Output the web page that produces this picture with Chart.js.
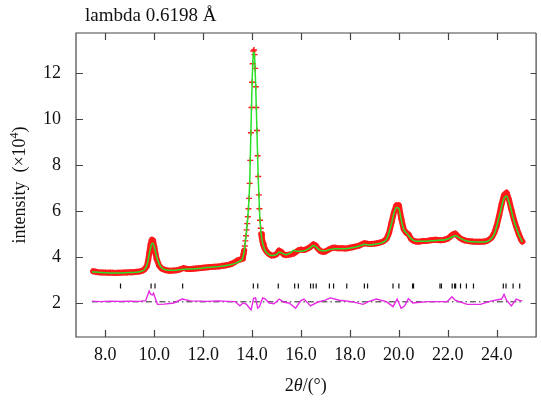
<!DOCTYPE html>
<html lang="en">
<head>
    <meta charset="UTF-8">
    <title>Powder diffraction</title>
    <script src="https://cdn.jsdelivr.net/npm/chart.js"></script>
    <style>
        body { margin: 0; background: #fff; }
        #box { width: 541px; height: 405px; }
    </style>
</head>
<body>
    <div id="box"><canvas id="myChart" width="541" height="405"></canvas></div>

<script>
    // observed profile (2theta, intensity x10^4)
    const obsX = [7.5, 7.6, 7.7, 7.8, 7.9, 8.0, 8.1, 8.2, 8.3, 8.4, 8.5, 8.6, 8.7, 8.8, 8.9, 9.0, 9.1, 9.2, 9.3, 9.4,
        9.5, 9.6, 9.7, 9.75, 9.8, 9.85, 9.9, 9.95, 10.0, 10.05, 10.1, 10.2, 10.3, 10.4, 10.5, 10.6, 10.7, 10.8, 10.9,
        11.0, 11.1, 11.2, 11.3, 11.4, 11.5, 11.6, 11.7, 11.8, 11.9, 12.0, 12.1, 12.2, 12.3, 12.4, 12.5, 12.6, 12.7,
        12.8, 12.9, 13.0, 13.1, 13.2, 13.3, 13.4, 13.5,
        13.6, 13.625, 13.65, 13.675, 13.7, 13.725, 13.75, 13.775, 13.8, 13.825, 13.85, 13.875, 13.9, 13.925, 13.95,
        13.975, 14.0, 14.025, 14.05, 14.075, 14.1, 14.125, 14.15, 14.175, 14.2, 14.225, 14.25, 14.275, 14.3, 14.325,
        14.35, 14.375, 14.4, 14.425, 14.45, 14.475, 14.5, 14.55, 14.6,
        14.7, 14.8, 14.9, 15.0, 15.1, 15.2, 15.3, 15.4, 15.5, 15.6, 15.7, 15.8, 15.9, 16.0, 16.1, 16.2, 16.3, 16.4,
        16.5, 16.6, 16.7, 16.8, 16.9, 17.0, 17.1, 17.2, 17.3, 17.4, 17.5, 17.6, 17.7, 17.8, 17.9, 18.0, 18.1, 18.2,
        18.3, 18.4, 18.5, 18.6, 18.7, 18.8, 18.9, 19.0, 19.1, 19.2, 19.3, 19.4, 19.5, 19.6, 19.7, 19.8, 19.9, 20.0,
        20.1, 20.2, 20.3, 20.4, 20.5, 20.6, 20.7, 20.8, 20.9, 21.0, 21.1, 21.2, 21.3, 21.4, 21.5, 21.6, 21.7, 21.8,
        21.9, 22.0, 22.1, 22.2, 22.3, 22.4, 22.5, 22.6, 22.7, 22.8, 22.9, 23.0, 23.1, 23.2, 23.3, 23.4, 23.5, 23.6,
        23.7, 23.8, 23.9, 24.0, 24.1, 24.2, 24.3, 24.4, 24.5, 24.6, 24.7, 24.8, 24.9, 25.0, 25.05];
    const obsY = [3.38, 3.36, 3.34, 3.33, 3.33, 3.32, 3.31, 3.32, 3.31, 3.30, 3.31, 3.31, 3.32, 3.33, 3.33, 3.34, 3.34, 3.35, 3.36, 3.37,
        3.40, 3.46, 3.60, 3.85, 4.20, 4.55, 4.75, 4.72, 4.45, 4.15, 3.90, 3.62, 3.50, 3.45, 3.42, 3.40, 3.40, 3.41, 3.42,
        3.44, 3.48, 3.52, 3.49, 3.48, 3.48, 3.49, 3.50, 3.51, 3.52, 3.53, 3.54, 3.55, 3.56, 3.57, 3.58, 3.59, 3.60,
        3.62, 3.63, 3.65, 3.68, 3.72, 3.78, 3.85, 3.88,
        3.92, 4.00, 4.12, 4.28, 4.48, 4.70, 4.92, 5.18, 5.45, 5.75, 6.10, 6.55, 7.20, 8.20, 9.40,
        10.50, 11.60, 12.40, 12.95, 13.00, 12.80, 12.20, 11.40, 10.50, 9.50, 8.40, 7.50, 6.70, 6.10, 5.60,
        5.25, 5.00, 4.82, 4.68, 4.55, 4.48, 4.40, 4.30, 4.22,
        4.12, 4.06, 4.07, 4.12, 4.28, 4.22, 4.10, 4.08, 4.10, 4.12, 4.15, 4.22, 4.30, 4.32, 4.30, 4.33, 4.38, 4.45,
        4.55, 4.50, 4.35, 4.25, 4.22, 4.24, 4.30, 4.36, 4.40, 4.40, 4.38, 4.38, 4.38, 4.37, 4.38, 4.40, 4.42, 4.45,
        4.47, 4.50, 4.56, 4.60, 4.58, 4.56, 4.57, 4.58, 4.60, 4.62, 4.65, 4.70, 4.80, 5.05, 5.50, 5.95, 6.25, 6.25,
        5.65, 5.20, 5.05, 4.98, 4.78, 4.70, 4.67, 4.66, 4.68, 4.70, 4.70, 4.71, 4.73, 4.74, 4.75, 4.74, 4.73, 4.74,
        4.76, 4.80, 4.88, 4.98, 5.02, 4.92, 4.82, 4.76, 4.72, 4.70, 4.68, 4.67, 4.66, 4.66, 4.66, 4.66, 4.67, 4.70,
        4.76, 4.85, 5.05, 5.35, 5.80, 6.30, 6.70, 6.80, 6.50, 6.05, 5.65, 5.30, 5.00, 4.75, 4.67];

    // calculated profile
    const calcX = [7.45, 7.8, 8.2, 8.6, 9.0, 9.4, 9.6, 9.7, 9.8, 9.9, 9.95, 10.0, 10.1, 10.2, 10.3, 10.5, 10.8, 11.0,
        11.2, 11.5, 12.0, 12.5, 13.0, 13.3, 13.5, 13.6, 13.65, 13.7, 13.75, 13.8, 13.85, 13.9, 13.95, 14.0, 14.05,
        14.075, 14.1, 14.15, 14.2, 14.25, 14.3, 14.35, 14.4, 14.5, 14.6, 14.8, 15.0, 15.1, 15.2, 15.4, 15.6, 15.7,
        15.8, 16.0, 16.2, 16.4, 16.5, 16.6, 16.8, 17.0, 17.2, 17.4, 17.8, 18.2, 18.5, 18.6, 18.8, 19.0, 19.3, 19.5,
        19.7, 19.8, 19.9, 20.0, 20.1, 20.2, 20.35, 20.5, 20.7, 21.0, 21.5, 21.9, 22.1, 22.3, 22.5, 22.7, 23.0, 23.5,
        23.7, 23.9, 24.1, 24.3, 24.4, 24.5, 24.7, 24.9, 25.05];
    const calcY = [3.36, 3.32, 3.30, 3.30, 3.32, 3.36, 3.45, 3.65, 4.15, 4.58, 4.60, 4.45, 4.00, 3.70, 3.53, 3.43, 3.42, 3.44,
        3.47, 3.48, 3.52, 3.57, 3.64, 3.72, 3.82, 3.92, 4.10, 4.45, 4.90, 5.45, 6.10, 7.20, 9.40, 11.55, 12.85,
        12.90, 12.70, 11.30, 9.40, 7.45, 6.05, 5.20, 4.75, 4.35, 4.18, 4.06, 4.10, 4.22, 4.18, 4.10, 4.20, 4.30,
        4.25, 4.25, 4.30, 4.42, 4.50, 4.45, 4.28, 4.27, 4.33, 4.36, 4.36, 4.42, 4.52, 4.55, 4.52, 4.55, 4.62, 4.78,
        5.45, 5.90, 6.15, 6.10, 5.60, 5.20, 5.00, 4.80, 4.68, 4.68, 4.72, 4.75, 4.83, 4.92, 4.82, 4.72, 4.66, 4.65,
        4.72, 5.00, 5.75, 6.55, 6.65, 6.40, 5.60, 4.98, 4.65];

    // difference curve (shifted)
    const diffX = [7.45, 7.8, 8.2, 8.6, 9.0, 9.4, 9.65, 9.79, 9.85, 9.92, 9.97, 10.02, 10.13, 10.4, 10.8, 11.14, 11.47,
        11.8, 12.2, 12.6, 13.0, 13.3, 13.5, 13.63, 13.76, 13.9, 13.96, 14.06, 14.14, 14.23, 14.3, 14.43, 14.54, 14.7,
        14.9, 15.11, 15.31, 15.51, 15.78, 15.98, 16.12, 16.39, 16.66, 16.99, 17.2, 17.56, 18.07, 18.54, 18.75, 19.08,
        19.49, 19.76, 19.93, 20.09, 20.23, 20.39, 20.57, 21.17, 21.98, 22.17, 22.3, 22.79, 23.33, 23.8, 24.2, 24.3,
        24.4, 24.6, 24.8, 24.97, 25.05];
    const diffY = [2.08, 2.06, 2.08, 2.07, 2.08, 2.07, 2.10, 2.52, 2.38, 2.35, 2.42, 2.27, 1.94, 1.95, 2.00, 2.17, 2.09,
        2.08, 2.07, 2.09, 2.07, 2.06, 1.88, 2.00, 1.95, 1.77, 1.70, 2.20, 2.22, 1.77, 1.84, 2.22, 2.17, 2.00,
        1.97, 2.17, 2.03, 2.00, 1.77, 2.09, 2.17, 1.87, 2.03, 2.12, 2.22, 2.12, 2.06, 1.94, 2.06, 2.17,
        2.06, 1.84, 2.17, 1.77, 1.87, 2.19, 2.00, 2.06, 2.06, 2.27, 2.12, 1.94, 1.94, 2.09, 2.17, 2.37,
        2.12, 1.87, 2.17, 2.09, 2.10];

    // zero line of the difference curve
    const baseX = [7.45, 25.05];
    const baseY = [2.05, 2.05];

    // reflection positions
    const reflX = [8.62, 9.87, 10.03, 11.16, 14.05, 14.23, 15.07, 15.74, 15.89, 16.39, 16.5, 16.62, 17.16, 17.33,
        17.87, 18.59, 18.72, 19.76, 20.0, 20.56, 20.6, 21.68, 21.74, 22.18, 22.28, 22.32, 22.52, 22.76, 23.05,
        24.27, 24.38, 24.67, 24.94];
    const reflLevel = 2.74;

    const xTicks = [8, 10, 12, 14, 16, 18, 20, 22, 24];
    const yTicks = [2, 4, 6, 8, 10, 12];

    const fonte = 'Liberation Serif, Times New Roman, serif';

    function pares(xs, ys) {
        return xs.map((x, i) => ({ x: x, y: ys[i] }));
    }

    // the thick red band only where the profile is not too steep
    function banda(c) {
        const p0 = c.p0.parsed, p1 = c.p1.parsed;
        const inclinacao = Math.abs((p1.y - p0.y) / (p1.x - p0.x));
        if (inclinacao > 8 || Math.min(p0.y, p1.y) > 8) return 'rgba(0,0,0,0)';
        return undefined;
    }

    // box, inward ticks and text
    const moldura = {
        id: 'moldura',
        afterDraw(chart) {
            const ctx = chart.ctx;
            const a = chart.chartArea;
            const sx = chart.scales.x;
            const sy = chart.scales.y;
            ctx.save();
            ctx.strokeStyle = '#444';
            ctx.lineWidth = 1.2;
            ctx.beginPath();
            ctx.moveTo(a.right + 0.5, a.top);
            ctx.lineTo(a.left, a.top);
            ctx.lineTo(a.left, a.bottom);
            ctx.lineTo(a.right + 0.5, a.bottom);
            ctx.lineTo(a.right + 0.5, a.top);
            for (const v of xTicks) {
                const px = Math.round(sx.getPixelForValue(v)) + 0.5;
                ctx.moveTo(px, a.bottom); ctx.lineTo(px, a.bottom - 7);
                ctx.moveTo(px, a.top); ctx.lineTo(px, a.top + 7);
            }
            for (const v of yTicks) {
                const py = Math.round(sy.getPixelForValue(v)) + 0.5;
                ctx.moveTo(a.left, py); ctx.lineTo(a.left + 7, py);
                ctx.moveTo(a.right, py); ctx.lineTo(a.right - 5, py);
            }
            ctx.stroke();

            ctx.fillStyle = '#111';
            ctx.font = '19px ' + fonte;
            ctx.textBaseline = 'alphabetic';
            ctx.textAlign = 'left';
            ctx.fillText('lambda 0.6198 Å', 85, 21);

            // x title: 2θ/(°)
            const p1 = '2', p2 = 'θ', p3 = '/(°)';
            ctx.font = '18px ' + fonte;
            const w1 = ctx.measureText(p1).width;
            const w3 = ctx.measureText(p3).width;
            ctx.font = 'italic 18px ' + fonte;
            const w2 = ctx.measureText(p2).width;
            let x0 = (a.left + a.right) / 2 - (w1 + w2 + w3) / 2;
            ctx.font = '18px ' + fonte;
            ctx.fillText(p1, x0, 391);
            ctx.font = 'italic 18px ' + fonte;
            ctx.fillText(p2, x0 + w1, 391);
            ctx.font = '18px ' + fonte;
            ctx.fillText(p3, x0 + w1 + w2, 391);

            // y title: intensity (×10^4)
            const t1 = 'intensity  (×10', t2 = '4', t3 = ')';
            ctx.font = '18px ' + fonte;
            const u1 = ctx.measureText(t1).width;
            const u3 = ctx.measureText(t3).width;
            ctx.font = '12px ' + fonte;
            const u2 = ctx.measureText(t2).width;
            ctx.translate(25, (a.top + a.bottom) / 2);
            ctx.rotate(-Math.PI / 2);
            let s0 = -(u1 + u2 + u3) / 2;
            ctx.font = '18px ' + fonte;
            ctx.fillText(t1, s0, 0);
            ctx.font = '12px ' + fonte;
            ctx.fillText(t2, s0 + u1, -7);
            ctx.font = '18px ' + fonte;
            ctx.fillText(t3, s0 + u1 + u2, 0);
            ctx.restore();
        }
    };

    const ctx1 = document.getElementById('myChart');

    new Chart(ctx1, {
        type: 'scatter',
        data: {
            datasets: [{
                label: 'calc',
                data: pares(calcX, calcY),
                showLine: true,
                borderColor: 'rgb(40,225,40)',
                borderWidth: 1.5,
                pointRadius: 0,
                cubicInterpolationMode: 'monotone',
                order: 1
            }, {
                label: 'obs',
                data: pares(obsX, obsY),
                showLine: true,
                borderColor: 'rgb(255,25,25)',
                borderWidth: 6,
                borderJoinStyle: 'round',
                borderCapStyle: 'round',
                segment: { borderColor: banda },
                pointStyle: 'cross',
                pointRadius: 3,
                pointBorderColor: 'rgb(255,25,25)',
                pointBorderWidth: 1.4,
                order: 2
            }, {
                label: 'diff',
                data: pares(diffX, diffY),
                showLine: true,
                borderColor: 'rgb(230,40,230)',
                borderWidth: 1.4,
                pointRadius: 0,
                order: 3
            }, {
                label: 'zero',
                data: pares(baseX, baseY),
                showLine: true,
                borderColor: '#222',
                borderWidth: 1,
                borderDash: [6, 3, 1.5, 3],
                pointRadius: 0,
                order: 4
            }, {
                label: 'refl',
                data: reflX.map(x => ({ x: x, y: reflLevel })),
                showLine: false,
                pointStyle: 'line',
                rotation: 90,
                pointRadius: 2.5,
                borderColor: '#111',
                borderWidth: 1.2,
                order: 5
            }]
        },
        options: {
            responsive: false,
            animation: false,
            events: [],
            layout: { padding: { top: 33, right: 0, left: 0, bottom: 0 } },
            plugins: {
                legend: { display: false },
                tooltip: { enabled: false }
            },
            scales: {
                x: {
                    type: 'linear',
                    min: 6.8,
                    max: 25.59,
                    afterBuildTicks: s => { s.ticks = xTicks.map(v => ({ value: v })); },
                    afterFit: s => { s.height = 68; },
                    grid: { display: false, drawTicks: false },
                    border: { display: false },
                    ticks: {
                        callback: v => Number(v).toFixed(1),
                        color: '#111',
                        font: { family: fonte, size: 18 },
                        padding: 7,
                        maxRotation: 0,
                        autoSkip: false
                    }
                },
                y: {
                    type: 'linear',
                    min: 0.52,
                    max: 13.74,
                    afterBuildTicks: s => { s.ticks = yTicks.map(v => ({ value: v })); },
                    afterFit: s => { s.width = 76; },
                    grid: { display: false, drawTicks: false },
                    border: { display: false },
                    ticks: {
                        color: '#111',
                        font: { family: fonte, size: 18 },
                        padding: 15
                    }
                }
            }
        },
        plugins: [moldura]
    });
</script>
</body>
</html>
